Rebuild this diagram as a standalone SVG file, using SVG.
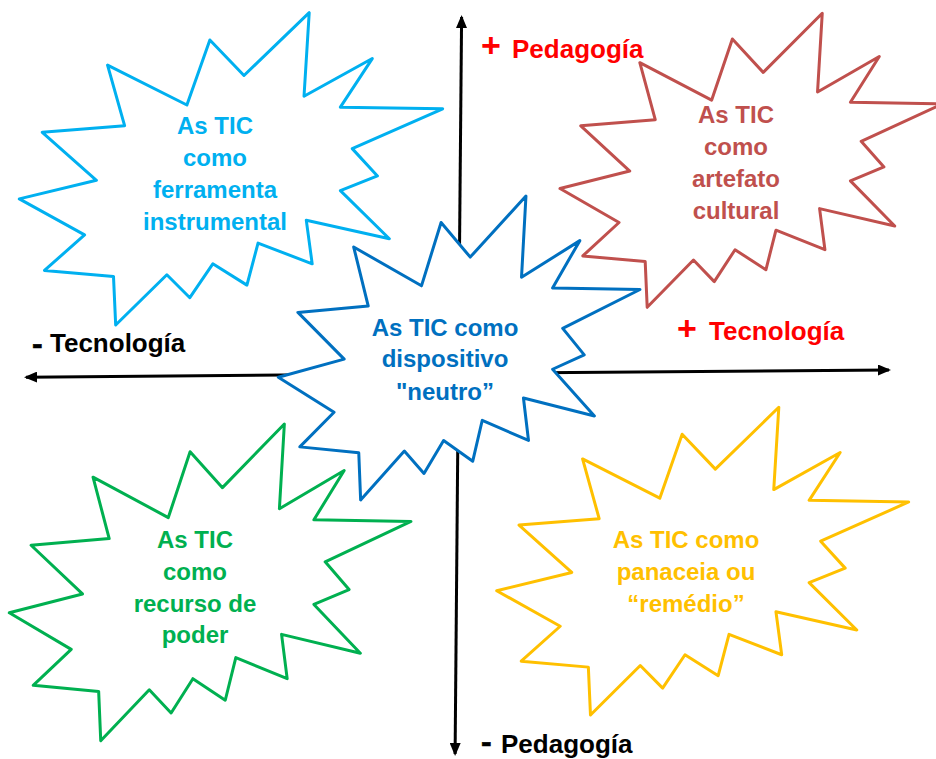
<svg xmlns="http://www.w3.org/2000/svg" xmlns:xlink="http://www.w3.org/1999/xlink" width="936" height="759" viewBox="0 0 936 759">
  <style>
    .bg { fill: #ffffff; }
    .axis { stroke: #000000; stroke-width: 3; fill: none; }
    .seal { fill: #ffffff; stroke-width: 3; stroke-linejoin: round; }
    .lbl { font-family: "Liberation Sans", Arial, sans-serif; font-weight: bold; font-size: 24px; text-anchor: middle; }
    .ax { font-family: "Liberation Sans", Arial, sans-serif; font-weight: bold; font-size: 26px; }
    .sign { font-family: "Liberation Sans", Arial, sans-serif; font-weight: bold; font-size: 34px; }
    .dash { font-family: "Liberation Sans", Arial, sans-serif; font-weight: bold; font-size: 32px; stroke: #000000; stroke-width: 0.6; }
    .pos { fill: #ff0000; }
    .neg { fill: #000000; }
  </style>
  <defs>
    <!-- explosion outline in a 21600 x 21600 unit box -->
    <path id="seal" vector-effect="non-scaling-stroke" d="M11462,4342 L14790,0 L14525,5777 L18007,3172 L16380,6532 L21600,6645 L16985,9402 L18270,11290 L16380,12310 L18877,15632 L14640,14350 L14942,17370 L12180,15935 L11612,18842 L9872,17370 L8700,19712 L7527,18125 L4917,21600 L4805,18240 L1285,17825 L3330,15370 L0,12877 L3935,11592 L1172,8270 L5372,7817 L4502,3625 L8550,6382 L9722,1887 Z"/>
    <marker id="arrow" markerUnits="userSpaceOnUse" markerWidth="13" markerHeight="11" refX="11" refY="5.5" orient="auto">
      <path d="M0,0 L13,5.5 L0,11 Z" fill="#000000"/>
    </marker>
  </defs>

  <rect class="bg" x="0" y="0" width="936" height="759"/>

  <!-- axes -->
  <g id="connectors">
    <line class="axis" x1="458.3" y1="385" x2="461.6" y2="17" marker-end="url(#arrow)"/>
    <line class="axis" x1="458.3" y1="385" x2="455.1" y2="754" marker-end="url(#arrow)"/>
    <line class="axis" x1="458" y1="373.5" x2="26" y2="377.2" marker-end="url(#arrow)"/>
    <line class="axis" x1="458" y1="373.5" x2="889" y2="370" marker-end="url(#arrow)"/>
  </g>

  <!-- axis labels -->
  <g id="label-ped-plus">
    <text class="sign pos" x="481" y="57">+</text>
    <text class="ax pos" x="512" y="58">Pedagogía</text>
  </g>
  <g id="label-ped-minus">
    <text class="dash neg" x="481" y="752">-</text>
    <text class="ax neg" x="501" y="752.5">Pedagogía</text>
  </g>
  <g id="label-tec-plus">
    <text class="sign pos" x="677" y="340">+</text>
    <text class="ax pos" x="709" y="340">Tecnología</text>
  </g>
  <g id="label-tec-minus">
    <text class="dash neg" x="32" y="354">-</text>
    <text class="ax neg" x="50" y="352">Tecnología</text>
  </g>

  <!-- ferramenta instrumental -->
  <g id="node-ferramenta">
    <use xlink:href="#seal" href="#seal" class="seal" stroke="#00B0F0" transform="translate(19.3,12.7) scale(0.019602,0.014458)"/>
    <text class="lbl" fill="#00B0F0" x="215" y="134">As TIC</text>
    <text class="lbl" fill="#00B0F0" x="215" y="166">como</text>
    <text class="lbl" fill="#00B0F0" x="215" y="198">ferramenta</text>
    <text class="lbl" fill="#00B0F0" x="215" y="230">instrumental</text>
  </g>

  <!-- artefato cultural -->
  <g id="node-artefato">
    <use xlink:href="#seal" href="#seal" class="seal" stroke="#C0504D" transform="translate(560,13.3) scale(0.017731,0.013611)"/>
    <text class="lbl" fill="#C0504D" x="736" y="123">As TIC</text>
    <text class="lbl" fill="#C0504D" x="736" y="155">como</text>
    <text class="lbl" fill="#C0504D" x="736" y="187">artefato</text>
    <text class="lbl" fill="#C0504D" x="736" y="219">cultural</text>
  </g>

  <!-- recurso de poder -->
  <g id="node-recurso">
    <use xlink:href="#seal" href="#seal" class="seal" stroke="#00B050" transform="translate(9.3,424) scale(0.018597,0.014662)"/>
    <text class="lbl" fill="#00B050" x="195" y="548">As TIC</text>
    <text class="lbl" fill="#00B050" x="195" y="580">como</text>
    <text class="lbl" fill="#00B050" x="195" y="612">recurso de</text>
    <text class="lbl" fill="#00B050" x="195" y="643">poder</text>
  </g>

  <!-- panaceia ou remedio -->
  <g id="node-panaceia">
    <use xlink:href="#seal" href="#seal" class="seal" stroke="#FFC000" transform="translate(496.7,407.3) scale(0.019074,0.014245)"/>
    <text class="lbl" fill="#FFC000" x="686" y="548">As TIC como</text>
    <text class="lbl" fill="#FFC000" x="686" y="580">panaceia ou</text>
    <text class="lbl" fill="#FFC000" x="686" y="612">“remédio”</text>
  </g>

  <!-- dispositivo neutro (centre) -->
  <g id="node-neutro">
    <use xlink:href="#seal" href="#seal" class="seal" stroke="#0070C0" transform="translate(278.3,196) scale(0.016745,0.014074)"/>
    <text class="lbl" fill="#0070C0" x="445" y="336">As TIC como</text>
    <text class="lbl" fill="#0070C0" x="445" y="367">dispositivo</text>
    <text class="lbl" fill="#0070C0" x="445" y="400">"neutro”</text>
  </g>
</svg>
